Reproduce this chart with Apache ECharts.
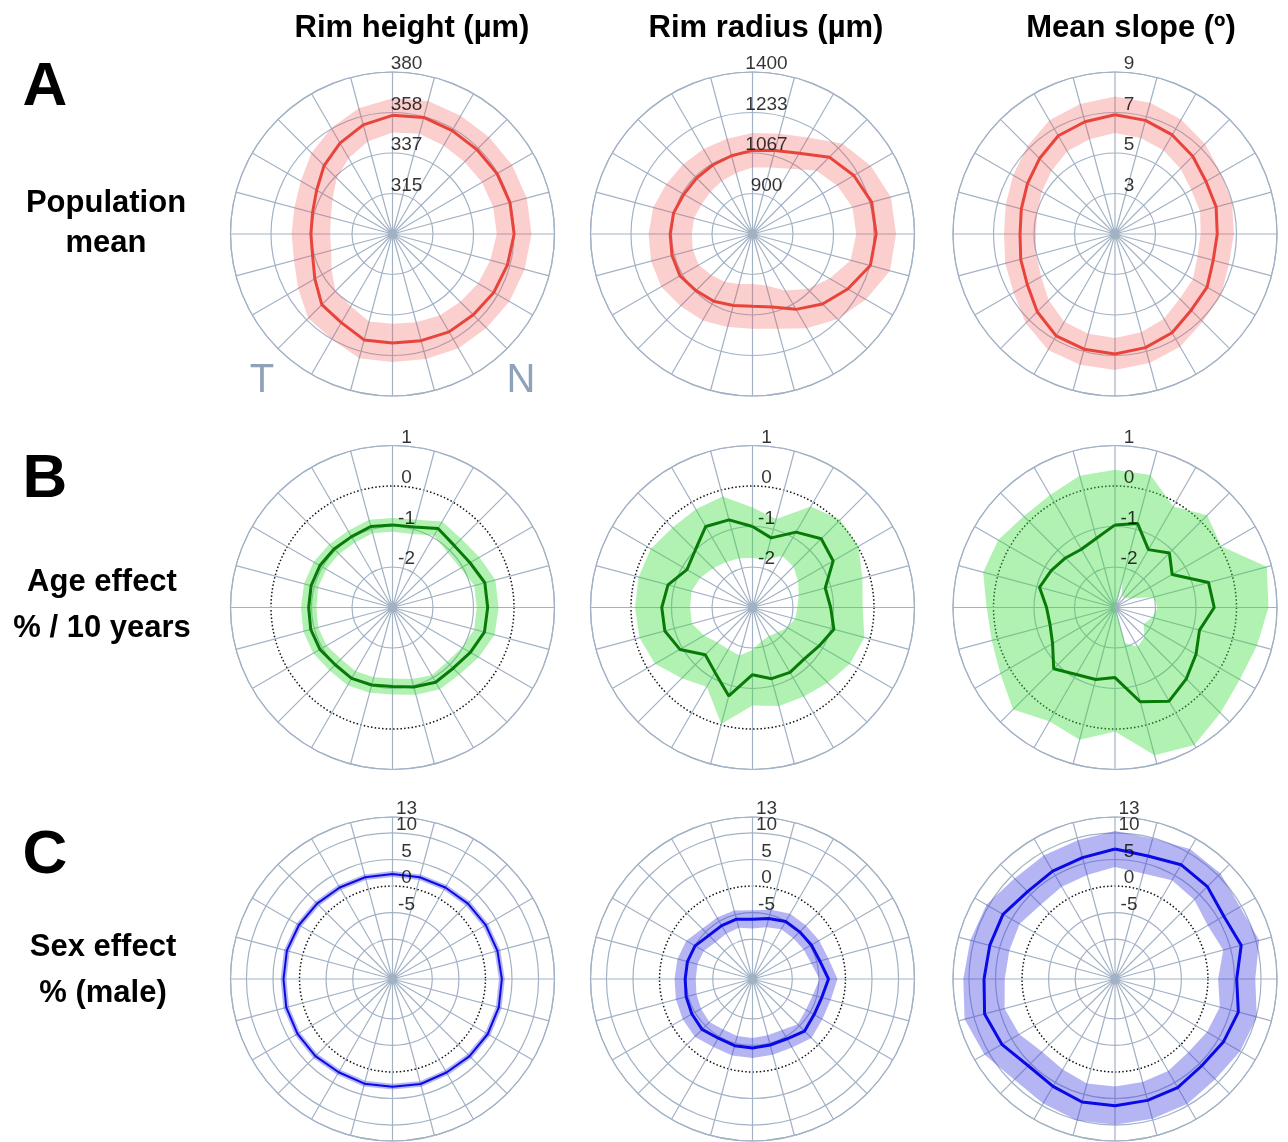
<!DOCTYPE html>
<html><head><meta charset="utf-8">
<script src="https://cdn.jsdelivr.net/npm/echarts@6/dist/echarts.min.js"></script>
<style>html,body{margin:0;padding:0;background:#fff}#c{width:1288px;height:1142px}</style>
</head><body><div id="c"></div>
<script>
// ---------- data ----------
const ANGLES = [0,15,30,45,60,75,90,105,120,135,150,165,180,195,210,225,240,255,270,285,300,315,330,345];

// A: population mean (line) and half-width of the band
const RIM_HEIGHT_MEAN = [356.8,357.9,357.2,357.2,357.9,358.4,358.4,357.0,355.9,354.5,353.8,352.4,351.6,352.0,348.1,346.8,341.3,337.6,337.0,337.6,340.2,345.1,349.5,353.8];
const RIM_HEIGHT_CI   = [9.1,9.1,9.2,9.3,9.3,9.3,9.3,9.5,9.7,9.9,10.1,10.2,10.2,10.2,10.2,10.3,10.3,10.3,10.3,10.1,9.8,9.5,9.3,9.2];
const RIM_RADIUS_MEAN = [1077.6,1088.6,1117.4,1180.5,1214.8,1240.9,1242.2,1235.4,1186.0,1140.7,1091.4,1044.7,1031.0,1037.9,1053.0,1062.5,1077.6,1076.3,1072.1,1069.4,1059.8,1058.4,1061.2,1066.6];
const RIM_RADIUS_CI   = [71,72,74,78,80,82,82,84,86,88,90,92,92,92,91,90,89,89,89,87,84,80,76,73];
const SLOPE_MEAN = [6.89,6.81,6.65,6.43,6.19,6.17,6.05,6.02,6.25,6.32,6.63,6.81,6.93,6.89,6.81,6.43,6.00,5.82,5.69,5.79,5.99,6.27,6.60,6.74];
const SLOPE_CI   = [0.90,0.90,0.88,0.86,0.84,0.82,0.82,0.80,0.80,0.80,0.80,0.79,0.79,0.79,0.80,0.80,0.79,0.79,0.79,0.80,0.82,0.85,0.88,0.90];

// B: age effect (% / 10 years)
const AGE_HEIGHT_MEAN = [-0.96,-0.94,-0.75,-0.84,-0.79,-0.64,-0.65,-0.65,-0.78,-0.88,-0.87,-0.97,-1.05,-1.02,-0.98,-1.00,-0.93,-0.91,-0.93,-0.92,-0.93,-0.96,-0.98,-0.93];
const AGE_HEIGHT_CI   = [0.17,0.18,0.20,0.24,0.27,0.27,0.27,0.26,0.24,0.22,0.20,0.20,0.20,0.20,0.20,0.20,0.19,0.19,0.19,0.18,0.18,0.17,0.17,0.17];
const AGE_RADIUS_MEAN = [-1.00,-1.22,-0.85,-0.60,-0.70,-1.14,-1.07,-0.92,-1.10,-1.20,-1.15,-1.18,-1.34,-0.74,-1.15,-1.35,-0.93,-0.76,-0.76,-0.84,-1.13,-1.00,-0.69,-0.76];
const AGE_RADIUS_LO   = [-1.78,-1.77,-1.53,-1.57,-1.70,-1.82,-1.89,-1.91,-2.01,-2.13,-2.19,-2.14,-1.95,-1.77,-1.81,-1.78,-1.62,-1.45,-1.46,-1.44,-1.52,-1.63,-1.70,-1.74];
const AGE_RADIUS_HI   = [-0.53,-0.74,-0.12,0.06,0.02,-0.19,-0.28,-0.14,-0.22,-0.37,-0.46,-0.48,-0.58,-0.02,-0.74,-0.53,-0.22,-0.11,-0.10,-0.09,-0.10,-0.21,-0.20,-0.16];
const AGE_SLOPE_MEAN = [-0.96,-0.85,-1.35,-1.10,-1.37,-0.61,-0.55,-0.84,-0.69,-0.51,-0.33,-0.59,-1.27,-1.16,-1.09,-0.86,-1.22,-1.34,-1.31,-1.07,-1.18,-1.27,-1.34,-1.23];
const AGE_SLOPE_LO   = [-3,-2.28,-2.67,-2.65,-2.55,-2.01,-1.95,-2.05,-2.18,-1.97,-1.88,-2.09,-3,-3,-3,-3,-3,-3,-3,-3,-3,-3,-3,-3];
const AGE_SLOPE_HI   = [0.40,0.39,-0.12,0.22,0.03,0.88,0.79,0.63,0.56,0.68,0.92,0.78,0.06,0.38,0.24,0.56,0.27,0.15,0.17,0.37,0.33,0.19,0.21,0.37];

// C: sex effect (% male)
const SEX_HEIGHT_MEAN = [2.27,2.33,2.39,2.58,2.77,2.96,3.09,3.21,3.21,3.02,2.83,2.96,2.77,2.90,2.77,3.02,3.15,3.21,3.02,3.09,2.83,2.58,2.39,2.33];
const SEX_HEIGHT_CI   = [0.55,0.55,0.55,0.55,0.55,0.55,0.55,0.55,0.55,0.55,0.55,0.55,0.55,0.55,0.55,0.55,0.55,0.55,0.55,0.55,0.55,0.55,0.55,0.55];
const SEX_RADIUS_MEAN = [-6.27,-5.70,-5.01,-4.95,-4.70,-4.38,-3.19,-4.01,-4.10,-3.63,-4.51,-4.63,-4.51,-4.51,-4.63,-4.07,-4.32,-4.57,-4.82,-4.82,-5.01,-5.89,-5.89,-5.83];
const SEX_RADIUS_CI   = [1.7,1.7,1.7,1.7,1.7,1.7,1.7,1.75,1.8,1.85,1.9,1.9,1.9,1.9,1.9,1.95,2.0,2.0,2.0,1.95,1.9,1.8,1.75,1.7];
const SEX_SLOPE_MEAN = [6.98,6.47,7.35,7.10,6.16,7.10,5.41,6.54,6.10,5.60,6.10,6.16,6.35,6.47,5.85,5.60,7.10,7.92,7.16,6.91,6.85,5.78,5.97,6.16];
const SEX_SLOPE_CI   = [3.4,3.4,3.4,3.5,3.5,3.5,3.5,3.6,3.6,3.6,3.6,3.6,3.6,3.6,3.7,3.7,3.8,3.9,3.9,3.8,3.6,3.5,3.4,3.4];

// tick labels
const TICKS_RIM_HEIGHT = [315, 337, 358, 380];
const TICKS_RIM_RADIUS = [900, 1067, 1233, 1400];
const TICKS_SLOPE = [3, 5, 7, 9];
const TICKS_AGE = [-2, -1, 0, 1];
const TICKS_SEX = [-5, 0, 5, 10, 13];

const COLUMN_TITLES = ['Rim height (µm)', 'Rim radius (µm)', 'Mean slope (º)'];
const ROW_LETTERS = ['A', 'B', 'C'];
const ROW_LABELS = [['Population', 'mean'], ['Age effect', '% / 10 years'], ['Sex effect', '% (male)']];

// ---------- layout / style ----------
const FONT = "'Liberation Sans', Arial, Helvetica, sans-serif";
const GRID = '#a2b2c5';
const NONE = 'rgba(0,0,0,0)';
const CX = [392.5, 752.5, 1115];
const CY = [234, 607.5, 979];
const R = 162;

const RED = {line: '#e8443c', band: 'rgba(239,83,80,0.28)'};
const GREEN = {line: '#087a08', band: 'rgba(60,220,60,0.40)'};
const BLUE = {line: '#0a0ae6', band: 'rgba(60,60,225,0.38)'};

const ringsAll = [GRID];
const ringsB = [GRID, GRID, GRID, NONE, GRID];
const ringsC = [NONE,NONE,NONE,GRID,NONE,GRID,NONE,NONE,NONE,GRID,NONE,GRID,NONE,GRID];

const PLOTS = [
  {r:0,c:0, mean:RIM_HEIGHT_MEAN, ci:RIM_HEIGHT_CI, min:880/3, max:380, interval:65/3, rings:ringsAll, ticks:TICKS_RIM_HEIGHT, col:RED, lw:3},
  {r:0,c:1, mean:RIM_RADIUS_MEAN, ci:RIM_RADIUS_CI, min:2200/3, max:1400, interval:500/3, rings:ringsAll, ticks:TICKS_RIM_RADIUS, col:RED, lw:3},
  {r:0,c:2, mean:SLOPE_MEAN, ci:SLOPE_CI, min:1, max:9, interval:2, rings:ringsAll, ticks:TICKS_SLOPE, col:RED, lw:3},
  {r:1,c:0, mean:AGE_HEIGHT_MEAN, ci:AGE_HEIGHT_CI, min:-3, max:1, interval:1, rings:ringsB, ticks:TICKS_AGE, col:GREEN, lw:3, zero:3},
  {r:1,c:1, mean:AGE_RADIUS_MEAN, lo:AGE_RADIUS_LO, hi:AGE_RADIUS_HI, min:-3, max:1, interval:1, rings:ringsB, ticks:TICKS_AGE, col:GREEN, lw:3, zero:3},
  {r:1,c:2, mean:AGE_SLOPE_MEAN, lo:AGE_SLOPE_LO, hi:AGE_SLOPE_HI, min:-3, max:1, interval:1, rings:ringsB, ticks:TICKS_AGE, col:GREEN, lw:3, zero:3},
  {r:2,c:0, mean:SEX_HEIGHT_MEAN, ci:SEX_HEIGHT_CI, min:-17.5, max:13, interval:2.5, rings:ringsC, ticks:TICKS_SEX, col:BLUE, lw:2, zero:17.5},
  {r:2,c:1, mean:SEX_RADIUS_MEAN, ci:SEX_RADIUS_CI, min:-17.5, max:13, interval:2.5, rings:ringsC, ticks:TICKS_SEX, col:BLUE, lw:3, zero:17.5},
  {r:2,c:2, mean:SEX_SLOPE_MEAN, ci:SEX_SLOPE_CI, min:-17.5, max:13, interval:2.5, rings:ringsC, ticks:TICKS_SEX, col:BLUE, lw:3, zero:17.5}
];

function closed(vals) {
  const pts = ANGLES.map((a, i) => [vals[i], a]);
  pts.push([vals[0], 360]);
  return pts;
}

const polar = [], angleAxis = [], radiusAxis = [], series = [];
PLOTS.forEach((p, k) => {
  polar.push({center: [CX[p.c], CY[p.r]], radius: R});
  angleAxis.push({
    polarIndex: k, type: 'value', min: 0, max: 360, interval: 15, startAngle: 90, clockwise: true,
    axisLine: {show: true, lineStyle: {color: GRID, width: 1.2}},
    axisTick: {show: false}, axisLabel: {show: false},
    splitLine: {show: true, lineStyle: {color: GRID, width: 1.2}}
  });
  radiusAxis.push({
    polarIndex: k, type: 'value', min: p.min, max: p.max, interval: p.interval,
    axisLine: {show: false}, axisTick: {show: false}, axisLabel: {show: false},
    splitLine: {show: true, lineStyle: {color: p.rings, width: 1.2}}
  });
  const lo = p.lo ? p.lo.map(v => Math.max(v, p.min)) : p.mean.map((m, i) => Math.max(m - p.ci[i], p.min));
  const hi = p.hi ? p.hi : p.mean.map((m, i) => m + p.ci[i]);
  const diff = hi.map((h, i) => h - lo[i]);
  series.push({
    type: 'line', coordinateSystem: 'polar', polarIndex: k, stack: 'band' + k, stackStrategy: 'all',
    data: closed(lo), symbol: 'none', lineStyle: {opacity: 0}, silent: true, z: 2
  });
  series.push({
    type: 'line', coordinateSystem: 'polar', polarIndex: k, stack: 'band' + k, stackStrategy: 'all',
    data: closed(diff), symbol: 'none', lineStyle: {opacity: 0}, areaStyle: {color: p.col.band, opacity: 1}, silent: true, z: 2
  });
  series.push({
    type: 'line', coordinateSystem: 'polar', polarIndex: k,
    data: closed(p.mean), symbol: 'none', lineStyle: {color: p.col.line, width: p.lw}, silent: true, z: 3
  });
  series.push({
    type: 'scatter', coordinateSystem: 'polar', polarIndex: k,
    data: p.ticks.map(t => [t, 0]), symbolSize: 1, itemStyle: {color: NONE}, silent: true, z: 5,
    label: {show: true, position: 'top', distance: 0, offset: [14, 2], formatter: q => String(q.value[0]),
      fontSize: 19, color: '#000', fontFamily: FONT}
  });
});

// dotted zero rings (overlay polars)
PLOTS.forEach((p, k) => {
  if (p.zero === undefined) return;
  const idx = polar.length;
  polar.push({center: [CX[p.c], CY[p.r]], radius: R});
  angleAxis.push({polarIndex: idx, type: 'value', min: 0, max: 360, show: false});
  radiusAxis.push({
    polarIndex: idx, type: 'value', min: p.min, max: p.max, interval: p.zero,
    axisLine: {show: false}, axisTick: {show: false}, axisLabel: {show: false},
    splitLine: {show: true, lineStyle: {color: [NONE, '#111', NONE], width: 1.5, type: [1.5, 2.2]}}
  });
});

const graphic = [];
COLUMN_TITLES.forEach((t, i) => {
  const xs = [412, 766, 1131];
  graphic.push({type: 'text', x: xs[i], y: 28, style: {text: t, font: 'bold 31px ' + FONT, fill: '#000', align: 'center', verticalAlign: 'middle'}});
});
const letterY = [88, 480, 856];
ROW_LETTERS.forEach((t, i) => {
  graphic.push({type: 'text', x: 45, y: letterY[i], style: {text: t, font: 'bold 62px ' + FONT, fill: '#000', align: 'center', verticalAlign: 'middle'}});
});
const rowLabelPos = [[106, 203, 243], [102, 582, 628], [103, 947, 993]];
ROW_LABELS.forEach((lines, i) => {
  lines.forEach((t, j) => {
    graphic.push({type: 'text', x: rowLabelPos[i][0], y: rowLabelPos[i][1 + j], style: {text: t, font: 'bold 31px ' + FONT, fill: '#000', align: 'center', verticalAlign: 'middle'}});
  });
});
graphic.push({type: 'text', x: 262, y: 381, style: {text: 'T', font: '40px ' + FONT, fill: '#8fa2b9', align: 'center', verticalAlign: 'middle'}});
graphic.push({type: 'text', x: 521, y: 381, style: {text: 'N', font: '40px ' + FONT, fill: '#8fa2b9', align: 'center', verticalAlign: 'middle'}});

const chart = echarts.init(document.getElementById('c'), null, {renderer: 'canvas'});
chart.setOption({
  animation: false,
  backgroundColor: '#fff',
  polar, angleAxis, radiusAxis, series, graphic
});
</script>
</body></html>
